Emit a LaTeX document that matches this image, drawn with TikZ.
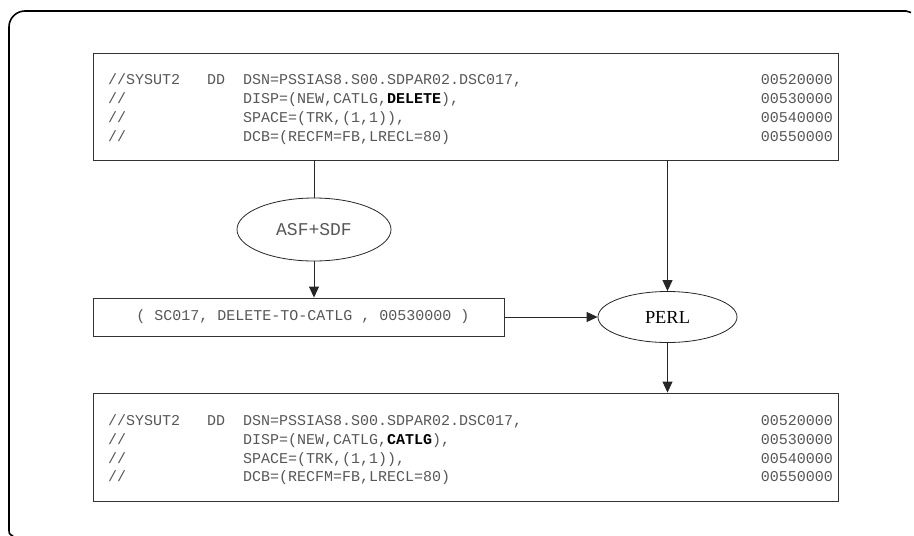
\documentclass[tikz,border=0pt]{standalone}
\usepackage{fontspec}
\usetikzlibrary{arrows.meta,shapes.geometric}
\newfontfamily\codefont{Liberation Mono}
\newfontfamily\labfont{Liberation Serif}
\colorlet{txt}{black!66}
\newcommand{\bk}[1]{\textcolor{black}{\textbf{#1}}}
\begin{document}
\begin{tikzpicture}[x=1pt,y=-1pt,
  codebox/.style={draw=black!80,line width=0.9pt,rectangle,inner sep=0},
  code/.style={inner sep=0,anchor=base west,font=\codefont\fontsize{15}{18}\selectfont,text=txt},
  num/.style={inner sep=0,anchor=base east,font=\codefont\fontsize{15}{18}\selectfont,text=txt},
  oval/.style={draw=black!85,line width=0.8pt,ellipse,inner sep=0},
  conn/.style={draw=black!85,line width=0.9pt},
  arr/.style={conn,-{Triangle[length=11pt,width=10pt]}}
]
\useasboundingbox (0,0) rectangle (914,536);
% outer frame
\draw[line width=1.6pt] (13,536) .. controls (9,534) .. (9,528) -- (9,27)
  arc[start angle=180,end angle=270,radius=16] -- (906,11) -- (911,12.5);

% boxes
\node[codebox,minimum width=745pt,minimum height=107pt] (top) at (465.5,106.5) {};
\node[codebox,minimum width=745pt,minimum height=108pt] (bot) at (465.5,447) {};
\node[codebox,minimum width=411pt,minimum height=38pt] (mid) at (298.5,317) {};
\node[code,anchor=center] (midtxt) at (303,317) {( SC017, DELETE-TO-CATLG , 00530000 )};

% ellipses
\node[oval,minimum width=154pt,minimum height=63pt,text=txt] (asf) at (314,229.5) {\codefont\fontsize{18}{20}\selectfont ASF+SDF};
\node[oval,minimum width=139pt,minimum height=51pt] (perl) at (667.5,317) {\labfont\fontsize{18.4}{20}\selectfont PERL};

% top code
\node[code] (ta1) at (108,84) {//SYSUT2};
\node[code] (tb1) at (207,84) {DD};
\node[code] (tc1) at (243,84) {DSN=PSSIAS8.S00.SDPAR02.DSC017,};
\node[num] (tn1) at (833,84) {00520000};
\node[code] (ta2) at (108,103.2) {//};
\node[code] (tc2) at (243,103.2) {DISP=(NEW,CATLG,\bk{DELETE}),};
\node[num] (tn2) at (833,103.2) {00530000};
\node[code] (ta3) at (108,122.4) {//};
\node[code] (tc3) at (243,122.4) {SPACE=(TRK,(1,1)),};
\node[num] (tn3) at (833,122.4) {00540000};
\node[code] (ta4) at (108,141.6) {//};
\node[code] (tc4) at (243,141.6) {DCB=(RECFM=FB,LRECL=80)};
\node[num] (tn4) at (833,141.6) {00550000};

% bottom code
\node[code] (ba1) at (108,425.5) {//SYSUT2};
\node[code] (bb1) at (207,425.5) {DD};
\node[code] (bc1) at (243,425.5) {DSN=PSSIAS8.S00.SDPAR02.DSC017,};
\node[num] (bn1) at (833,425.5) {00520000};
\node[code] (ba2) at (108,444.3) {//};
\node[code] (bc2) at (243,444.3) {DISP=(NEW,CATLG,\bk{CATLG}),};
\node[num] (bn2) at (833,444.3) {00530000};
\node[code] (ba3) at (108,463.1) {//};
\node[code] (bc3) at (243,463.1) {SPACE=(TRK,(1,1)),};
\node[num] (bn3) at (833,463.1) {00540000};
\node[code] (ba4) at (108,481.9) {//};
\node[code] (bc4) at (243,481.9) {DCB=(RECFM=FB,LRECL=80)};
\node[num] (bn4) at (833,481.9) {00550000};

% connectors
\draw[conn] (top.south -| asf.north) -- (asf.north);
\draw[arr] (asf.south) -- (asf.south |- mid.north);
\draw[arr] (mid.east) -- (mid.east -| perl.west);
\draw[arr] (top.south -| perl.north) -- (perl.north);
\draw[arr] (perl.south) -- (perl.south |- bot.north);
\end{tikzpicture}
\end{document}
